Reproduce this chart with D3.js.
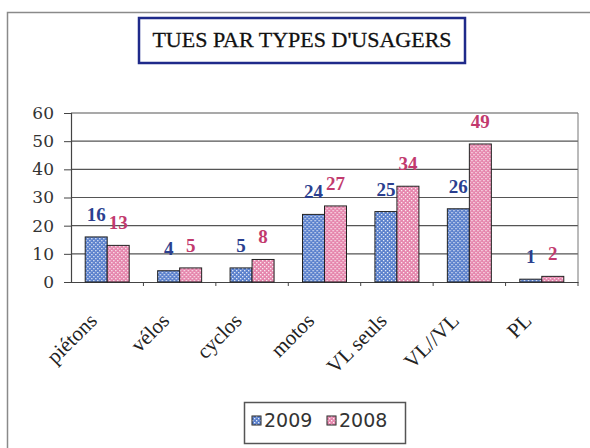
<!DOCTYPE html>
<html>
<head>
<meta charset="utf-8">
<script src="https://cdn.jsdelivr.net/npm/d3@7"></script>
<style>
  body { margin: 0; background: #fff; }
  svg { display: block; }
</style>
</head>
<body>
<div id="chart"></div>
<script>
/* ===== Data ===== */
const categories = ["piétons", "vélos", "cyclos", "motos", "VL seuls", "VL//VL", "PL"];
const values2009 = [16, 4, 5, 24, 25, 26, 1];
const values2008 = [13, 5, 8, 27, 34, 49, 2];
const yTicks = [0, 10, 20, 30, 40, 50, 60];
const seriesNames = ["2009", "2008"];
const title = "TUES PAR TYPES D'USAGERS";

/* ===== Constants ===== */
const width = 590, height = 448;
const plot = {left: 71, right: 578, top: 113, bottom: 282};
const colors = {"2009": "#5a80cc", "2008": "#e585ac"};
const labelColors = {"2009": "#2b3f8f", "2008": "#c23a6e"};
const serif = "'Liberation Serif', 'Times New Roman', serif";

const svg = d3.select("#chart").append("svg")
    .attr("width", width)
    .attr("height", height);

// dotted fills like the old office chart
const defs = svg.append("defs");
seriesNames.forEach(s => {
    const p = defs.append("pattern")
        .attr("id", "pat" + s)
        .attr("patternUnits", "userSpaceOnUse")
        .attr("width", 4).attr("height", 4);
    p.append("rect").attr("width", 4).attr("height", 4).attr("fill", colors[s]);
    p.append("rect").attr("x", 0).attr("y", 0).attr("width", 1.3).attr("height", 1.3).attr("fill", "#fff").attr("opacity", 0.85);
    p.append("rect").attr("x", 2).attr("y", 2).attr("width", 1.3).attr("height", 1.3).attr("fill", "#fff").attr("opacity", 0.85);
});

// outer frame
svg.append("rect")
    .attr("x", 7.5).attr("y", 12.5)
    .attr("width", 600).attr("height", 460)
    .attr("fill", "#fff")
    .attr("stroke", "#8a8a8a")
    .attr("stroke-width", 1.5);

// title box
const titleG = svg.append("g");
titleG.append("rect")
    .attr("x", 139).attr("y", 18)
    .attr("width", 326).attr("height", 45)
    .attr("fill", "#fff")
    .attr("stroke", "#1f2a8a")
    .attr("stroke-width", 2.5);
titleG.append("text")
    .attr("x", 302).attr("y", 47)
    .attr("text-anchor", "middle")
    .attr("font-family", serif)
    .attr("font-size", 22)
    .attr("fill", "#111")
    .attr("stroke", "#111")
    .attr("stroke-width", 0.3)
    .text(title);

/* ===== Scales ===== */
const x = d3.scaleBand()
    .domain(categories)
    .range([plot.left, plot.right]);

const xInner = d3.scaleBand()
    .domain(seriesNames)
    .range([0, 44]);

const y = d3.scaleLinear()
    .domain([0, 60])
    .range([plot.bottom, plot.top]);

// gridlines
svg.append("g")
    .selectAll("line")
    .data(yTicks.filter(d => d > 0))
    .join("line")
    .attr("x1", plot.left).attr("x2", plot.right)
    .attr("y1", d => y(d)).attr("y2", d => y(d))
    .attr("stroke", "#555")
    .attr("stroke-width", 1.2);

// right border of the plot area
svg.append("line")
    .attr("x1", plot.right).attr("x2", plot.right)
    .attr("y1", plot.top).attr("y2", plot.bottom)
    .attr("stroke", "#777");

// y axis
const yAxis = svg.append("g")
    .attr("transform", `translate(${plot.left},0)`)
    .call(d3.axisLeft(y).tickValues(yTicks).tickSize(7).tickPadding(10));
yAxis.select(".domain").attr("stroke", "#444").attr("stroke-width", 1.2);
yAxis.selectAll(".tick line").attr("stroke", "#444");
yAxis.selectAll("text")
    .attr("font-family", "'DejaVu Serif', serif")
    .attr("font-size", 17)
    .attr("fill", "#333");

// x axis: ticks between the categories
const xAxis = svg.append("g")
    .attr("transform", `translate(0,${plot.bottom})`)
    .call(d3.axisBottom(x).tickValues(categories).tickSize(0).tickFormat(""));
xAxis.select(".domain").attr("stroke", "#444").attr("stroke-width", 1.2);
xAxis.selectAll(".tick").remove();
xAxis.selectAll("line.sep")
    .data(categories)
    .join("line")
    .attr("class", "sep")
    .attr("x1", d => x(d) + x.bandwidth()).attr("x2", d => x(d) + x.bandwidth())
    .attr("y1", 0).attr("y2", 4)
    .attr("stroke", "#444");

// category labels, rotated
svg.append("g")
    .selectAll("text")
    .data(categories)
    .join("text")
    .attr("transform", d => `translate(${x(d) + x.bandwidth() / 2 - 9},${plot.bottom + 40}) rotate(-45)`)
    .attr("text-anchor", "end")
    .attr("font-family", serif)
    .attr("font-size", 21)
    .attr("fill", "#222")
    .text(d => d);

/* ===== Bars ===== */
const rows = categories.map((c, i) => ({cat: c, "2009": values2009[i], "2008": values2008[i]}));
const groups = svg.append("g")
    .selectAll("g")
    .data(rows)
    .join("g")
    .attr("transform", d => `translate(${x(d.cat) + (x.bandwidth() - 44) / 2},0)`);

groups.selectAll("rect")
    .data(d => seriesNames.map(s => ({s, v: d[s]})))
    .join("rect")
    .attr("x", d => xInner(d.s))
    .attr("y", d => y(d.v))
    .attr("width", xInner.bandwidth())
    .attr("height", d => y(0) - y(d.v))
    .attr("fill", d => `url(#pat${d.s})`)
    .attr("stroke", "#222")
    .attr("stroke-width", 1);

groups.selectAll("text")
    .data(d => seriesNames.map(s => ({s, v: d[s]})))
    .join("text")
    .attr("x", d => xInner(d.s) + xInner.bandwidth() / 2)
    .attr("y", d => y(d.v) - 16)
    .attr("text-anchor", "middle")
    .attr("font-family", serif)
    .attr("font-weight", "bold")
    .attr("font-size", 19)
    .attr("fill", d => labelColors[d.s])
    .text(d => d.v);

/* ===== Legend ===== */
const legend = svg.append("g").attr("transform", "translate(244,402)");
legend.append("rect")
    .attr("x", 0.5).attr("y", 0.5)
    .attr("width", 161).attr("height", 41)
    .attr("fill", "#fff")
    .attr("stroke", "#555")
    .attr("stroke-width", 1.5);
const items = legend.selectAll("g")
    .data(seriesNames)
    .join("g")
    .attr("transform", (d, i) => `translate(${8 + i * 75},14)`);
items.append("rect")
    .attr("width", 9).attr("height", 9)
    .attr("fill", d => `url(#pat${d})`)
    .attr("stroke", "#222");
items.append("text")
    .attr("x", 12).attr("y", 11)
    .attr("font-family", "'DejaVu Sans', sans-serif")
    .attr("font-size", 19)
    .attr("fill", "#333")
    .text(d => d);
</script>
</body>
</html>
